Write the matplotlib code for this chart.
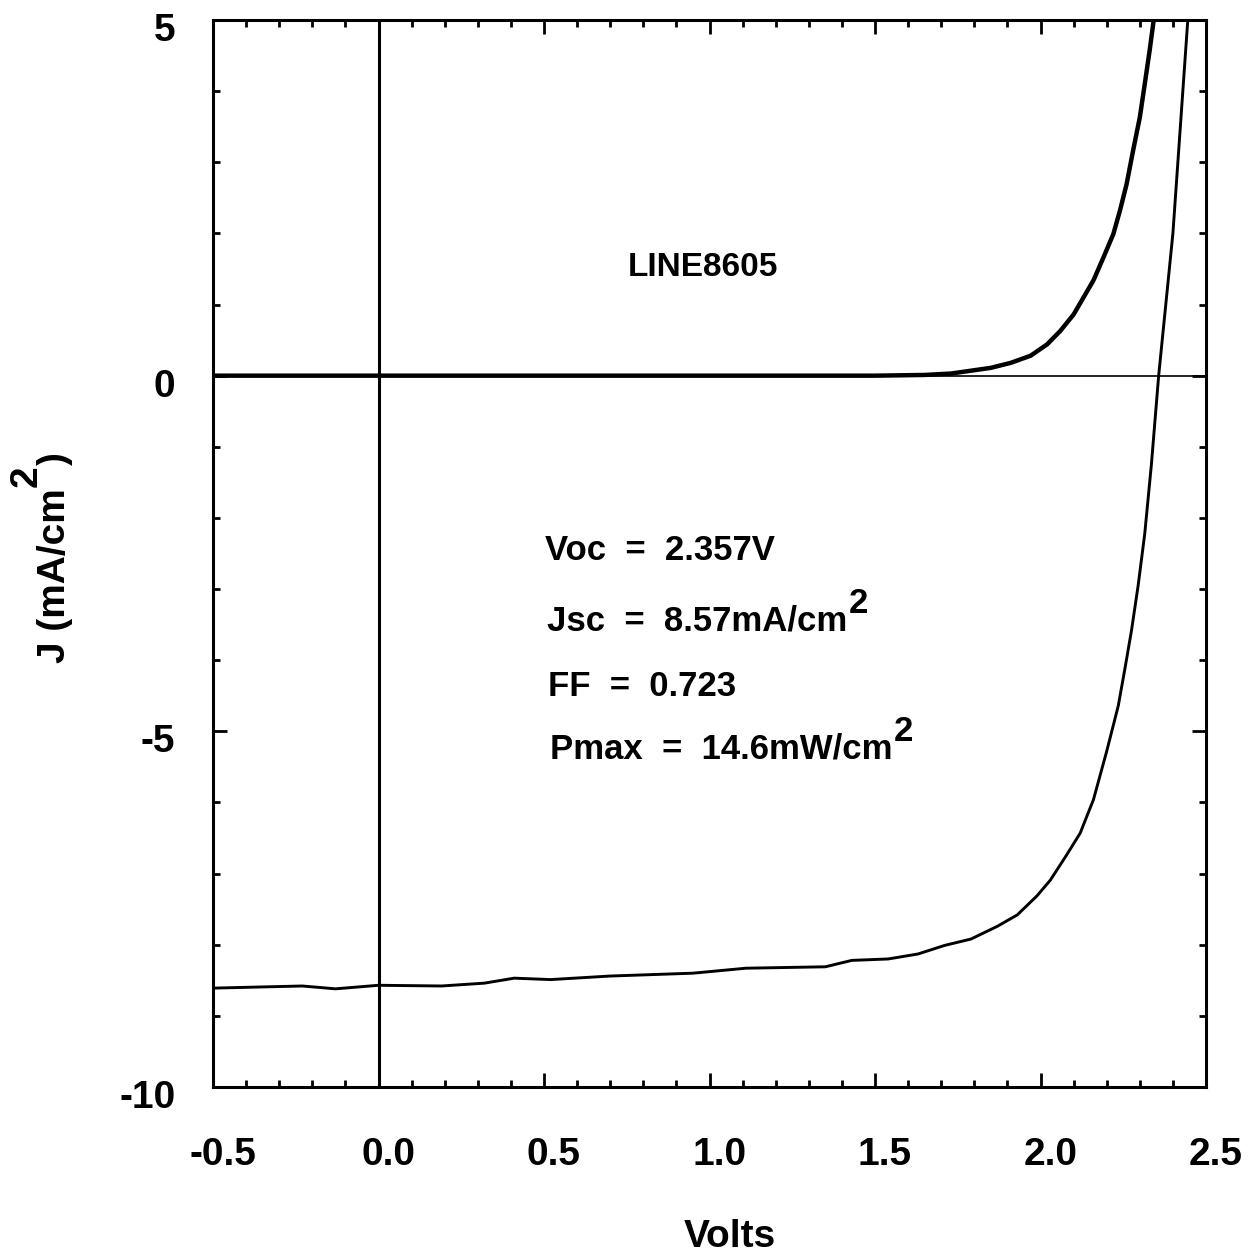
import numpy as np
import matplotlib
matplotlib.use("Agg")
import matplotlib.pyplot as plt
from matplotlib.ticker import MultipleLocator
from matplotlib.transforms import ScaledTranslation

plt.rcParams['font.family'] = ['Liberation Sans', 'DejaVu Sans']
plt.rcParams['font.weight'] = 'bold'

# Dark J-V curve (V, mA/cm^2)
dark_v = [-0.50, 0.00, 0.50, 1.00, 1.50, 1.65, 1.73, 1.79, 1.85, 1.91, 1.97,
          2.02, 2.06, 2.10, 2.13, 2.16, 2.19, 2.22, 2.24, 2.26, 2.28, 2.30,
          2.315, 2.33, 2.342, 2.35]
dark_j = [0.00, 0.00, 0.00, 0.00, 0.00, 0.01, 0.03, 0.07, 0.11, 0.18, 0.28,
          0.44, 0.63, 0.86, 1.10, 1.34, 1.66, 1.99, 2.32, 2.69, 3.17, 3.63,
          4.10, 4.58, 5.00, 5.30]

# Illuminated J-V curve (V, mA/cm^2)
light_v = [-0.50, -0.23, -0.13, 0.00, 0.19, 0.32, 0.41, 0.52, 0.70, 0.95,
           1.11, 1.35, 1.43, 1.54, 1.63, 1.71, 1.79, 1.87, 1.93, 1.99, 2.03,
           2.08, 2.12, 2.16, 2.20, 2.235, 2.255, 2.275, 2.295, 2.315, 2.335,
           2.357, 2.40, 2.445, 2.45]
light_j = [-8.61, -8.58, -8.62, -8.57, -8.58, -8.54, -8.47, -8.49, -8.44, -8.40,
           -8.33, -8.31, -8.22, -8.20, -8.13, -8.01, -7.92, -7.74, -7.58, -7.31, -7.09,
           -6.73, -6.43, -5.96, -5.28, -4.64, -4.12, -3.58, -2.95, -2.22, -1.25,
           0.00, 2.00, 5.00, 5.30]

x_ticks = [-0.5, 0.0, 0.5, 1.0, 1.5, 2.0, 2.5]
x_labels = ['-0.5', '0.0', '0.5', '1.0', '1.5', '2.0', '2.5']
y_ticks = [-10, -5, 0, 5]
y_labels = ['-10', '-5', '0', '5']

sample_name = 'LINE8605'
voc_text = 'Voc  =  2.357V'
jsc_text = 'Jsc  =  8.57mA/cm'
ff_text = 'FF  =  0.723'
pmax_text = 'Pmax  =  14.6mW/cm'

W, H = 1257, 1260
fig = plt.figure(figsize=(W / 100, H / 100), dpi=100)
ax = fig.add_axes([213 / W, 173 / H, 993 / W, 1067 / H])

ax.axhline(0, color='black', lw=1.2, zorder=2)
ax.axvline(0, color='black', lw=2.2, zorder=2)
ax.plot(dark_v, dark_j, color='black', lw=3.2, zorder=3)
ax.plot(light_v, light_j, color='black', lw=2.1, zorder=3)

ax.set_xlim(-0.5, 2.5)
ax.set_ylim(-10, 5)

ax.set_xticks(x_ticks)
ax.set_xticklabels(x_labels)
ax.set_yticks(y_ticks)
ax.set_yticklabels(y_labels)
ax.xaxis.set_minor_locator(MultipleLocator(0.1))
ax.yaxis.set_minor_locator(MultipleLocator(1))

ax.tick_params(which='both', direction='in', top=True, right=True,
               width=2.0, colors='black')
ax.tick_params(which='major', length=10)
ax.tick_params(which='minor', length=5)
ax.tick_params(axis='x', which='major', pad=36, labelsize=28)
ax.tick_params(axis='y', which='major', pad=27, labelsize=28)

for s in ax.spines.values():
    s.set_linewidth(2.2)

# nudge tick labels slightly
dx = ScaledTranslation(10 / 100, 0, fig.dpi_scale_trans)
for lab in ax.get_xticklabels():
    lab.set_transform(lab.get_transform() + dx)
    lab.set_fontweight('bold')
dy = ScaledTranslation(0, -7 / 100, fig.dpi_scale_trans)
for lab in ax.get_yticklabels():
    lab.set_transform(lab.get_transform() + dy)
    lab.set_fontweight('bold')


def with_sup(x, y, text, size):
    t = fig.text(x, y, text, fontsize=size, fontweight='bold',
                 ha='left', va='center')
    ax.annotate('2', xy=(1, 0.5), xycoords=t, xytext=(1, 1),
                textcoords='offset points', ha='left', va='bottom',
                fontsize=size, fontweight='bold')
    return t


fig.text(703 / W, 1 - 268 / H, sample_name, fontsize=24, fontweight='bold',
         ha='center', va='center')
fig.text(545 / W, 1 - 550 / H, voc_text, fontsize=25, fontweight='bold',
         ha='left', va='center')
with_sup(547 / W, 1 - 621 / H, jsc_text, 25)
fig.text(548 / W, 1 - 687 / H, ff_text, fontsize=25, fontweight='bold',
         ha='left', va='center')
with_sup(550 / W, 1 - 749 / H, pmax_text, 25)

# axis titles
fig.text(730 / W, 1 - 1237 / H, 'Volts', fontsize=28, fontweight='bold',
         ha='center', va='center')

ykw = dict(fontsize=28, fontweight='bold', rotation=90,
           rotation_mode='anchor', ha='left', va='baseline')
base_x = 65
yl = fig.text(base_x / W, 1 - 663 / H, 'J (mA/cm', **ykw)
fig.canvas.draw()
r = fig.canvas.get_renderer()
bb = yl.get_window_extent(r)
ys = fig.text((base_x - 28) / W, (bb.y1 + 1) / H, '2', **ykw)
fig.canvas.draw()
bb2 = ys.get_window_extent(r)
fig.text(base_x / W, (bb2.y1 + 1) / H, ')', **ykw)

fig.savefig('out.png', dpi=100, facecolor='white')
